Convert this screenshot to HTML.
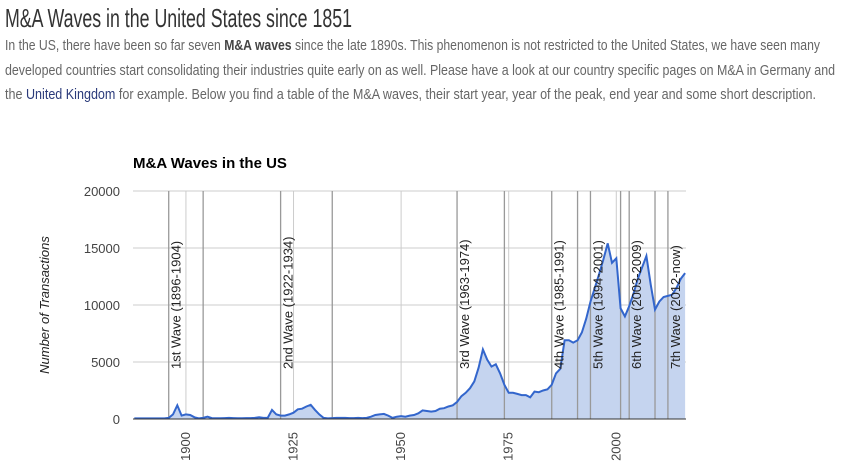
<!DOCTYPE html>
<html><head><meta charset="utf-8"><style>
body{margin:0;width:845px;height:476px;background:#fff;overflow:hidden;font-family:"Liberation Sans",sans-serif;}
.hdr{position:absolute;left:5px;white-space:nowrap;transform-origin:0 0;color:#666;}
#title{top:3px;font-size:26px;color:#333;}
.p{font-size:15px;}
a{color:#2a3a7a;text-decoration:none;}
</style></head><body>
<div id="title" class="hdr" data-w="347">M&amp;A Waves in the United States since 1851</div>
<div class="hdr p" style="top:37px" data-w="815">In the US, there have been so far seven <b style="color:#444">M&amp;A waves</b> since the late 1890s. This phenomenon is not restricted to the United States, we have seen many</div>
<div class="hdr p" style="top:62px" data-w="830">developed countries start consolidating their industries quite early on as well. Please have a look at our country specific pages on M&amp;A in Germany and</div>
<div class="hdr p" style="top:86px" data-w="811">the <a href="#">United Kingdom</a> for example. Below you find a table of the M&amp;A waves, their start year, year of the peak, end year and some short description.</div>
<svg id="chart" width="845" height="476" style="position:absolute;left:0;top:0"></svg>
<script>
const years=[];for(let y=1888;y<=2016;y++)years.push(y);
const deals=[50,50,50,50,50,50,50,50,
100,400,1200,300,400,350,150,50,100,200,
80,60,60,80,100,80,60,60,80,80,100,150,100,
100,800,400,300,300,400,550,850,900,1100,1250,800,400,100,50,
80,100,100,100,80,80,100,80,100,
200,350,400,450,300,100,200,250,200,300,350,
500,750,700,650,700,900,950,1100,1200,1500,
2000,2300,2700,3300,4500,6100,5200,4600,4800,4000,3000,
2300,2300,2200,2100,2100,1900,2400,2350,2500,2600,3000,
4000,4400,6900,6900,6700,6900,7600,8800,10300,11500,12700,14000,15400,13700,14100,9700,
9000,9900,11000,12300,13300,14300,11800,9600,10300,10700,10800,10900,11500,12300,12800];
const waveNames=["1st Wave (1896-1904)","2nd Wave (1922-1934)","3rd Wave (1963-1974)","4th Wave (1985-1991)","5th Wave (1994-2001)","6th Wave (2003-2009)","7th Wave (2012-now)"];
const waveStart=[1896,1922,1963,1985,1994,2003,2012];
const waveEnd=[1904,1934,1974,1991,2001,2009,null];
const yTicks=[0,5000,10000,15000,20000];
const xTicks=[1900,1925,1950,1975,2000];
const X0=133,X1=686,Y0=419,Y1=191,XMIN=1887.7,XMAX=2016.2;
const sx=v=>X0+(v-XMIN)/(XMAX-XMIN)*(X1-X0);
const sy=v=>Y0-(v/20000)*(Y0-Y1);
const svg=document.getElementById('chart');const NS='http://www.w3.org/2000/svg';
function mk(t,a,p){const e=document.createElementNS(NS,t);for(const k in a)e.setAttribute(k,a[k]);(p||svg).appendChild(e);return e;}
let e=mk('text',{x:133,y:168,'font-size':15,'font-weight':'bold',fill:'#000','font-family':'Liberation Sans, sans-serif'});e.textContent='M&A Waves in the US';


e=mk('text',{x:0,y:0,'font-size':13,'font-style':'italic',fill:'#222','text-anchor':'middle',transform:'translate(49,305) rotate(-90)','font-family':'Liberation Sans, sans-serif'});e.textContent='Number of Transactions';


yTicks.forEach(v=>{
 const l=mk('line',{x1:X0,x2:X1,y1:sy(v),y2:sy(v),stroke:'#ccc'});
 
 
 const t=mk('text',{x:120,y:sy(v)+5,'font-size':13,fill:'#444','text-anchor':'end','font-family':'Liberation Sans, sans-serif'});t.textContent=v;
 
 
});
xTicks.forEach(v=>{
 const l=mk('line',{x1:sx(v),x2:sx(v),y1:Y1,y2:Y0,stroke:'#ccc'});
 
 
 const t=mk('text',{x:0,y:0,'font-size':13,fill:'#444','text-anchor':'end',transform:`translate(${sx(v)+4},432) rotate(-90)`,'font-family':'Liberation Sans, sans-serif'});t.textContent=v;
 
 
});
let pts=years.map((y,i)=>sx(y).toFixed(1)+','+sy(deals[i]).toFixed(1));
e=mk('polygon',{points:sx(years[0])+','+Y0+' '+pts.join(' ')+' '+sx(years[years.length-1])+','+Y0,fill:'#c5d4ef'});


waveStart.concat(waveEnd.filter(v=>v!==null)).forEach(v=>{
 const l=mk('line',{x1:sx(v),x2:sx(v),y1:Y1,y2:Y0,stroke:'#999','stroke-width':1.3});
 
 
});
e=mk('polyline',{points:pts.join(' '),fill:'none',stroke:'#3366cc','stroke-width':2});


mk('line',{x1:X0,x2:X1,y1:Y0,y2:Y0,stroke:'#333','stroke-width':1});
waveNames.forEach((n,i)=>{
 const t=mk('text',{x:0,y:0,'font-size':13,fill:'#222',transform:`translate(${sx(waveStart[i])+12},369) rotate(-90)`,'font-family':'Liberation Sans, sans-serif'});t.textContent=n;
 
 
});
document.querySelectorAll('.hdr').forEach(d=>{const w=d.getBoundingClientRect().width;d.style.transform=`scaleX(${d.dataset.w/w})`;});
</script>
</body></html>
